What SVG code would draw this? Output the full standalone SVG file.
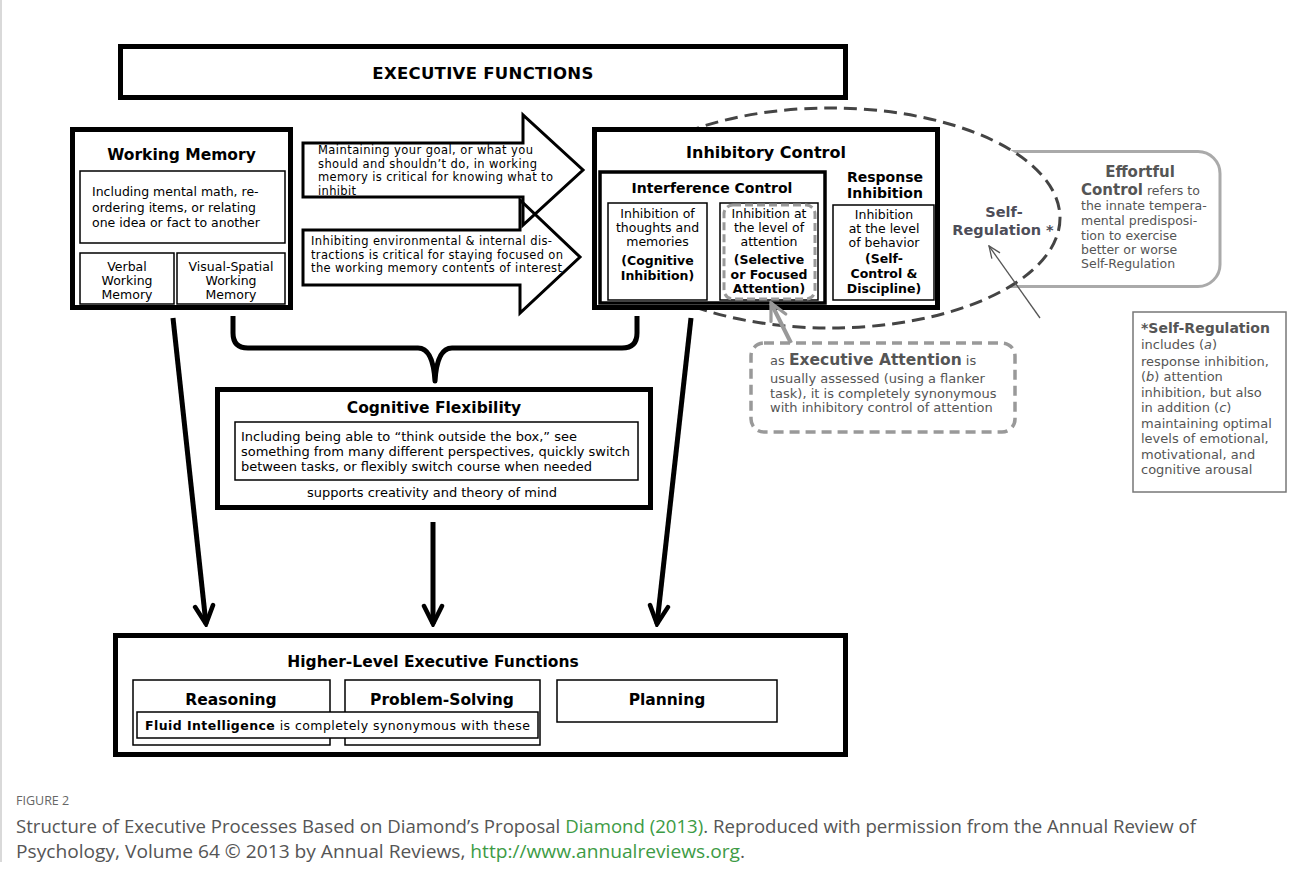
<svg xmlns="http://www.w3.org/2000/svg" width="1290" height="872" viewBox="0 0 1290 872">
<style>
text{font-family:'DejaVu Sans',Verdana,sans-serif;fill:#000}
.b{font-weight:bold}
.thick{fill:#fff;stroke:#000;stroke-width:5}
.mid{fill:#fff;stroke:#000;stroke-width:3.5}
.thin{fill:#fff;stroke:#000;stroke-width:1.5}
.s12{font-size:12.5px}
.s13{font-size:13px}
.ttl{font-size:15.5px;font-weight:bold}
.g{fill:#555}
.c{text-anchor:middle}
.cap{font-family:'Open Sans','Noto Sans',sans-serif;fill:#555}
.lnk{fill:#3d9b45}
.arr{fill:none;stroke:#000;stroke-width:3;stroke-linejoin:miter}
.dn{fill:none;stroke:#000;stroke-width:5}
</style>
<defs>
<marker id="vb" viewBox="0 0 24 24" refX="21" refY="12" markerWidth="24" markerHeight="24" orient="auto" markerUnits="userSpaceOnUse"><path d="M3,3 L21,12 L3,21" fill="none" stroke="#000" stroke-width="4.5" stroke-linecap="round"/></marker>
<marker id="vg" viewBox="0 0 24 24" refX="21" refY="12" markerWidth="22" markerHeight="22" orient="auto" markerUnits="userSpaceOnUse"><path d="M3,3 L21,12 L3,21" fill="none" stroke="#999" stroke-width="3.5" stroke-linecap="round"/></marker>
<marker id="vt" viewBox="0 0 14 12" refX="13" refY="6" markerWidth="14" markerHeight="12" orient="auto" markerUnits="userSpaceOnUse"><path d="M1,1 L13,6 L1,11" fill="none" stroke="#555" stroke-width="1.3"/></marker>
</defs>
<rect width="1290" height="872" fill="#fff"/>
<line x1="1" y1="0" x2="1" y2="862" stroke="#ccc" stroke-width="1.5"/>

<g id="title">
<rect x="120.5" y="46.5" width="725" height="51" class="thick"/>
<text x="483" y="79" class="c b" style="font-size:16.5px;letter-spacing:0.3px">EXECUTIVE FUNCTIONS</text>
</g>

<g id="effortful-control">
<rect x="965" y="151.5" width="255" height="135" rx="22" fill="#fff" stroke="#aaa" stroke-width="3"/>
<text x="1140" y="177" class="c b g" style="font-size:15px">Effortful</text>
<text x="1081" y="195" class="g s12"><tspan class="b" style="font-size:15px">Control</tspan> refers to</text>
<text x="1081" y="210" class="g s12">the innate tempera-</text>
<text x="1081" y="225" class="g s12">mental predisposi-</text>
<text x="1081" y="240" class="g s12">tion to exercise</text>
<text x="1081" y="254" class="g s12">better or worse</text>
<text x="1081" y="268" class="g s12">Self-Regulation</text>
</g>

<g id="self-regulation">
<ellipse cx="830" cy="218" rx="230" ry="110" fill="#fff" stroke="#444" stroke-width="3" stroke-dasharray="13 7"/>
<text x="1004" y="217" class="c b" style="font-size:14.5px;fill:#4d4d58">Self-</text>
<text x="1003" y="235" class="c b" style="font-size:14.5px;fill:#4d4d58">Regulation *</text>
</g>

<g id="working-memory">
<rect x="72.5" y="129.5" width="218" height="178" class="thick"/>
<text x="181.5" y="160" class="c ttl">Working Memory</text>
<rect x="80" y="171" width="205" height="72" class="thin"/>
<text x="92" y="196" class="s12">Including mental math, re-</text>
<text x="92" y="212" class="s12">ordering items, or relating</text>
<text x="92" y="227" class="s12">one idea or fact to another</text>
<rect x="80" y="253" width="94" height="51" class="thin"/>
<text x="127" y="271" class="c s12">Verbal</text>
<text x="127" y="285" class="c s12">Working</text>
<text x="127" y="299" class="c s12">Memory</text>
<rect x="177" y="253" width="108" height="51" class="thin"/>
<text x="231" y="271" class="c s12">Visual-Spatial</text>
<text x="231" y="285" class="c s12">Working</text>
<text x="231" y="299" class="c s12">Memory</text>
</g>

<g id="goal-arrow">
<polygon points="303,143 523,143 523,115 583,170 523,225 523,197 303,197" class="arr"/>
<text x="318" y="154" style="font-size:11.5px" textLength="215">Maintaining your goal, or what you</text>
<text x="318" y="168" style="font-size:11.5px" textLength="219">should and shouldn’t do, in working</text>
<text x="318" y="181" style="font-size:11.5px" textLength="235">memory is critical for knowing what to</text>
<text x="318" y="195" style="font-size:11.5px" textLength="38">inhibit</text>
</g>

<g id="distraction-arrow">
<polygon points="303,230 520,230 520,200 580,257 520,313 520,285 303,285" class="arr"/>
<text x="311" y="245" style="font-size:11.5px" textLength="241">Inhibiting environmental &amp; internal dis-</text>
<text x="311" y="259" style="font-size:11.5px" textLength="252">tractions is critical for staying focused on</text>
<text x="311" y="272" style="font-size:11.5px" textLength="251">the working memory contents of interest</text>
</g>

<g id="inhibitory-control">
<rect x="594.5" y="129.5" width="343" height="178" class="thick"/>
<text x="766" y="158" class="c b" style="font-size:16px">Inhibitory Control</text>
<g id="interference-control">
<rect x="600" y="172" width="225" height="131" class="mid"/>
<text x="712" y="193" class="c b" style="font-size:14px">Interference Control</text>
</g>
<g id="cognitive-inhibition">
<rect x="608" y="203" width="99" height="97" class="thin"/>
<text x="657.5" y="218" class="c s12">Inhibition of</text>
<text x="657.5" y="232" class="c s12">thoughts and</text>
<text x="657.5" y="246" class="c s12">memories</text>
<text x="657.5" y="265" class="c b s12">(Cognitive</text>
<text x="657.5" y="280" class="c b s12">Inhibition)</text>
</g>
<g id="selective-attention">
<rect x="720" y="203" width="98" height="97" class="thin"/>
<rect x="724" y="205" width="91" height="94" rx="9" fill="none" stroke="#999" stroke-width="3" stroke-dasharray="8 4"/>
<text x="769" y="218" class="c s12">Inhibition at</text>
<text x="769" y="232" class="c s12">the level of</text>
<text x="769" y="246" class="c s12">attention</text>
<text x="769" y="264" class="c b s12">(Selective</text>
<text x="769" y="279" class="c b s12">or Focused</text>
<text x="769" y="293" class="c b s12">Attention)</text>
</g>
<g id="response-inhibition">
<text x="885" y="182" class="c b" style="font-size:14px">Response</text>
<text x="885" y="198" class="c b" style="font-size:14px">Inhibition</text>
<rect x="833" y="205" width="101" height="95" class="thin"/>
<text x="884" y="219" class="c s12">Inhibition</text>
<text x="884" y="233" class="c s12">at the level</text>
<text x="884" y="247" class="c s12">of behavior</text>
<text x="884" y="263" class="c b s12">(Self-</text>
<text x="884" y="278" class="c b s12">Control &amp;</text>
<text x="884" y="293" class="c b s12">Discipline)</text>
</g>
</g>

<g id="executive-attention">
<rect x="751" y="343" width="264" height="89" rx="13" fill="#fff" stroke="#999" stroke-width="3.5" stroke-dasharray="10 6"/>
<text x="770" y="365" class="g s13">as <tspan class="b" style="font-size:15.5px">Executive Attention</tspan> is</text>
<text x="770" y="383" class="g s13">usually assessed (using a flanker</text>
<text x="770" y="398" class="g s13">task), it is completely synonymous</text>
<text x="770" y="412" class="g s13">with inhibitory control of attention</text>
</g>

<g id="self-regulation-note">
<rect x="1133" y="312" width="153" height="180" fill="#fff" stroke="#777" stroke-width="1.5"/>
<text x="1141" y="333" class="b g" style="font-size:14px">*Self-Regulation</text>
<text x="1141" y="349" class="g s13">includes (<tspan font-style="italic">a</tspan>)</text>
<text x="1141" y="366" class="g s13">response inhibition,</text>
<text x="1141" y="381" class="g s13">(<tspan font-style="italic">b</tspan>) attention</text>
<text x="1141" y="397" class="g s13">inhibition, but also</text>
<text x="1141" y="412" class="g s13">in addition (<tspan font-style="italic">c</tspan>)</text>
<text x="1141" y="428" class="g s13">maintaining optimal</text>
<text x="1141" y="443" class="g s13">levels of emotional,</text>
<text x="1141" y="459" class="g s13">motivational, and</text>
<text x="1141" y="474" class="g s13">cognitive arousal</text>
</g>

<g id="cognitive-flexibility">
<rect x="217.5" y="389.5" width="433" height="118" class="thick"/>
<text x="434" y="413" class="c ttl">Cognitive Flexibility</text>
<rect x="235" y="422" width="403" height="58" class="thin"/>
<text x="241" y="441" class="s13" textLength="336">Including being able to “think outside the box,” see</text>
<text x="241" y="456" class="s13" textLength="389">something from many different perspectives, quickly switch</text>
<text x="241" y="471" class="s13" textLength="351">between tasks, or flexibly switch course when needed</text>
<text x="432" y="497" class="c s13" textLength="250">supports creativity and theory of mind</text>
</g>

<g id="higher-level">
<rect x="115.5" y="635.5" width="730" height="119" class="thick"/>
<text x="433" y="667" class="c ttl">Higher-Level Executive Functions</text>
<g id="reasoning">
<rect x="133" y="680" width="197" height="65" class="thin"/>
<text x="231" y="705" class="c ttl">Reasoning</text>
</g>
<g id="problem-solving">
<rect x="345" y="680" width="195" height="65" class="thin"/>
<text x="442" y="705" class="c ttl">Problem-Solving</text>
</g>
<g id="planning">
<rect x="557" y="680" width="220" height="42" class="thin"/>
<text x="667" y="705" class="c ttl">Planning</text>
</g>
<g id="fluid-intelligence">
<rect x="137" y="712" width="401" height="26" class="thin"/>
<text x="145" y="730" class="s12" textLength="385"><tspan class="b">Fluid Intelligence</tspan> is completely synonymous with these</text>
</g>
</g>

<g id="connectors">
<path d="M233,316 V333 Q233,348 248,348 H418 Q433,348 435,381 Q437,348 452,348 H622 Q637,348 637,333 V316" class="dn" stroke-linejoin="round"/>
<line x1="173" y1="318" x2="206" y2="624" class="dn" marker-end="url(#vb)"/>
<line x1="433" y1="522" x2="433" y2="624" class="dn" marker-end="url(#vb)"/>
<line x1="691" y1="318" x2="657" y2="624" class="dn" marker-end="url(#vb)"/>
<line x1="791" y1="343" x2="771" y2="303" stroke="#999" stroke-width="4" marker-end="url(#vg)"/>
<line x1="1040" y1="318" x2="989" y2="246" stroke="#555" stroke-width="1.3" marker-end="url(#vt)"/>
</g>

<g id="caption">
<text x="16" y="805" style="font-family:'Open Sans',sans-serif;font-size:12.5px;fill:#666">FIGURE 2</text>
<text x="16" y="833" class="cap" style="font-size:18px" textLength="1180" lengthAdjust="spacingAndGlyphs">Structure of Executive Processes Based on Diamond’s Proposal <tspan class="lnk">Diamond (2013)</tspan>. Reproduced with permission from the Annual Review of</text>
<text x="16" y="858" class="cap" style="font-size:18px" textLength="729" lengthAdjust="spacingAndGlyphs">Psychology, Volume 64 © 2013 by Annual Reviews, <tspan class="lnk">http://www.annualreviews.org</tspan>.</text>
</g>
</svg>
